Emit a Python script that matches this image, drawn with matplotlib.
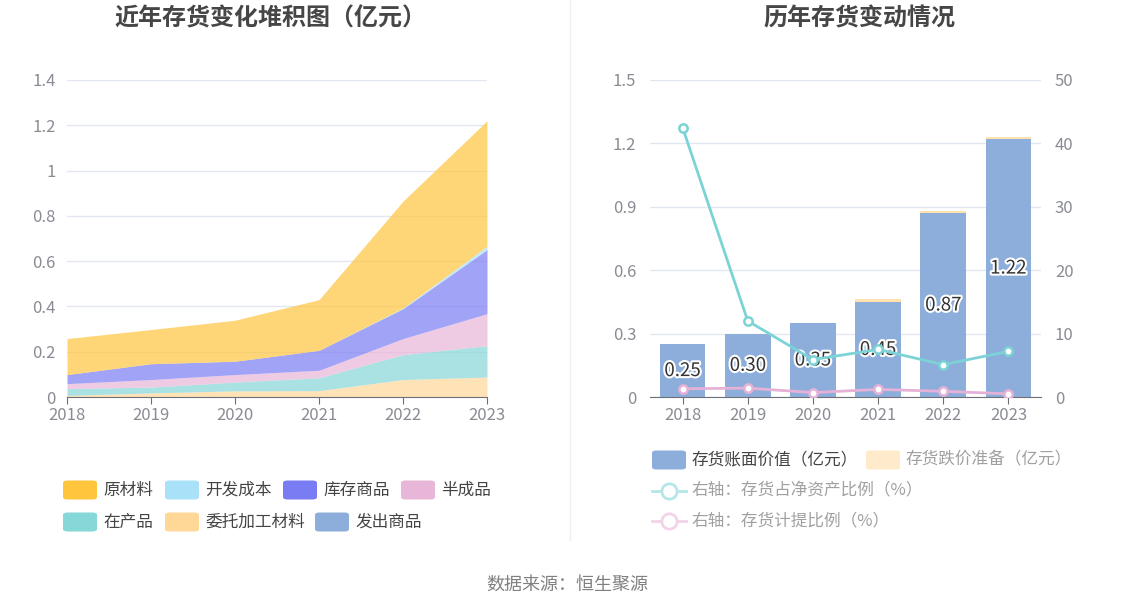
import matplotlib
matplotlib.use("Agg")
import matplotlib.pyplot as plt
import matplotlib.patheffects as pe
from matplotlib.patches import FancyBboxPatch
from matplotlib.lines import Line2D
import numpy as np

plt.rcParams['font.family'] = ['Noto Sans CJK SC', 'DejaVu Sans']

years = ['2018', '2019', '2020', '2021', '2022', '2023']

# Left chart: stacked inventory composition (亿元), bottom to top
fachu = [0, 0, 0, 0, 0, 0]                                   # 发出商品
weituo = [0.007, 0.018, 0.027, 0.028, 0.077, 0.088]          # 委托加工材料
zaichan = [0.030, 0.026, 0.039, 0.057, 0.110, 0.139]         # 在产品
banchengpin = [0.022, 0.033, 0.033, 0.033, 0.071, 0.141]     # 半成品
kucun = [0.040, 0.070, 0.059, 0.088, 0.132, 0.283]           # 库存商品
kaifa = [0, 0, 0, 0, 0.003, 0.015]                           # 开发成本
yuancailiao = [0.159, 0.151, 0.181, 0.224, 0.472, 0.554]     # 原材料

# Right chart
book_value = [0.25, 0.30, 0.35, 0.45, 0.87, 1.22]            # 存货账面价值
impairment = [0, 0, 0, 0.012, 0.011, 0.010]                  # 存货跌价准备
ratio_net_assets = [42.5, 12.0, 5.9, 7.5, 5.1, 7.2]          # 存货占净资产比例 (%)
provision_ratio = [1.3, 1.4, 0.7, 1.2, 0.9, 0.5]             # 存货计提比例 (%)

left_yticks = [0, 0.2, 0.4, 0.6, 0.8, 1.0, 1.2, 1.4]
left_yticklabels = ['0', '0.2', '0.4', '0.6', '0.8', '1', '1.2', '1.4']
right_yticks = [0, 0.3, 0.6, 0.9, 1.2, 1.5]
right_yticklabels = ['0', '0.3', '0.6', '0.9', '1.2', '1.5']
right2_yticks = [0, 10, 20, 30, 40, 50]

c_yuan = '#FFC53D'
c_kaifa = '#A9E1F9'
c_kucun = '#7A7CF3'
c_ban = '#E8B6D8'
c_zai = '#86D7D8'
c_wei = '#FFD898'
c_fachu = '#8DADDB'
c_bar = '#8DADDB'
c_imp = '#FFE2AE'
c_line1 = '#7CD3D6'
c_line2 = '#E6B1D6'

grid_c = '#E3E7F2'
tick_c = '#8A8C94'
axis_c = '#6E7079'

TICK_FS = 12
LEG_FS = 12

W, H = 1134, 612
fig = plt.figure(figsize=(W / 100, H / 100), dpi=100)

def fx(px):
    return px / W

def fy(py):
    return 1 - py / H

# ---------- Left chart ----------
axL = fig.add_axes([fx(67), fy(397), fx(487) - fx(67), fy(80) - fy(397)])
x = np.arange(len(years))
layers = [(fachu, c_fachu), (weituo, c_wei), (zaichan, c_zai), (banchengpin, c_ban),
          (kucun, c_kucun), (kaifa, c_kaifa), (yuancailiao, c_yuan)]
base = np.zeros(len(years))
for vals, col in layers:
    top = base + np.array(vals)
    axL.fill_between(x, base, top, color=col, alpha=0.7, linewidth=0)
    base = top
axL.set_xlim(0, 5)
axL.set_ylim(0, 1.4)
axL.set_yticks(left_yticks)
axL.set_yticklabels(left_yticklabels)
axL.set_xticks(x)
axL.set_xticklabels(years)
axL.grid(axis='y', color=grid_c, linewidth=1)
axL.set_axisbelow(True)
for s in ['top', 'right', 'left']:
    axL.spines[s].set_visible(False)
axL.spines['bottom'].set_color(axis_c)
axL.tick_params(axis='y', length=0, labelsize=TICK_FS, colors=tick_c, pad=8)
axL.tick_params(axis='x', length=5, color=axis_c, labelsize=TICK_FS, labelcolor=tick_c, pad=2)

# ---------- Right chart ----------
axR = fig.add_axes([fx(650), fy(397), fx(1041) - fx(650), fy(80) - fy(397)])
xr = np.arange(len(years))
axR.bar(xr, book_value, width=0.7, color=c_bar, zorder=2)
axR.bar(xr, impairment, width=0.7, bottom=book_value, color=c_imp, zorder=2)
axR.set_xlim(-0.5, 5.5)
axR.set_ylim(0, 1.5)
axR.set_yticks(right_yticks)
axR.set_yticklabels(right_yticklabels)
axR.set_xticks(xr)
axR.set_xticklabels(years)
axR.grid(axis='y', color=grid_c, linewidth=1, zorder=0)
axR.set_axisbelow(True)
for s in ['top', 'right', 'left']:
    axR.spines[s].set_visible(False)
axR.spines['bottom'].set_color(axis_c)
axR.tick_params(axis='y', length=0, labelsize=TICK_FS, colors=tick_c, pad=10)
axR.tick_params(axis='x', length=5, color=axis_c, labelsize=TICK_FS, labelcolor=tick_c, pad=2)

# bar labels (below the lines, as in the reference)
for xi, v in zip(xr, book_value):
    axR.text(xi, v / 2, f'{v:.2f}', ha='center', va='center', fontsize=13.5,
             color='#333333', zorder=5,
             path_effects=[pe.withStroke(linewidth=3, foreground='white')])

axR2 = axR.twinx()
axR2.set_ylim(0, 50)
axR2.set_yticks(right2_yticks)
for s in ['top', 'right', 'left', 'bottom']:
    axR2.spines[s].set_visible(False)
axR2.tick_params(axis='y', length=0, labelsize=TICK_FS, colors=tick_c, pad=10)
axR2.plot(xr, ratio_net_assets, color=c_line1, linewidth=2, marker='o', markersize=6,
          markerfacecolor='white', markeredgecolor=c_line1, markeredgewidth=1.8, zorder=3)
axR2.plot(xr, provision_ratio, color=c_line2, linewidth=2, marker='o', markersize=6,
          markerfacecolor='white', markeredgecolor=c_line2, markeredgewidth=1.8, zorder=3)

# ---------- Titles and decorations ----------
fig.text(fx(270), fy(18), '近年存货变化堆积图（亿元）', ha='center', va='center',
         fontsize=17.3, fontweight='bold', color='#464646')
fig.text(fx(859), fy(18), '历年存货变动情况', ha='center', va='center',
         fontsize=17.3, fontweight='bold', color='#464646')
fig.add_artist(Line2D([fx(570), fx(570)], [fy(540), fy(0)], color='#EEEEEE', linewidth=1))
fig.text(fx(567), fy(585), '数据来源：恒生聚源', ha='center', va='center',
         fontsize=13, color='#808080')

# ---------- Left legend ----------
def patch(px, py, col, w=34, h=19):
    p = FancyBboxPatch((fx(px), fy(py + h / 2)), fx(w), h / H,
                       boxstyle='round,pad=0,rounding_size=0.004',
                       transform=fig.transFigure, facecolor=col, edgecolor='none')
    fig.add_artist(p)

left_legend = [
    ('原材料', c_yuan, 63, 490), ('开发成本', c_kaifa, 165, 490),
    ('库存商品', c_kucun, 283, 490), ('半成品', c_ban, 401, 490),
    ('在产品', c_zai, 63, 522), ('委托加工材料', c_wei, 165, 522),
    ('发出商品', c_fachu, 315, 522),
]
for name, col, px, py in left_legend:
    patch(px, py, col)
    fig.text(fx(px + 40), fy(py), name, ha='left', va='center', fontsize=LEG_FS, color='#444444')

# ---------- Right legend ----------
patch(652, 460, c_bar)
fig.text(fx(692), fy(460), '存货账面价值（亿元）', ha='left', va='center', fontsize=LEG_FS, color='#444444')
patch(866, 460, '#FFEACB')
fig.text(fx(906), fy(460), '存货跌价准备（亿元）', ha='left', va='center', fontsize=LEG_FS, color='#A0A0A0')

for py, col, name in [(491, '#B5E6E8', '右轴：存货占净资产比例（%）'),
                      (521, '#F2D3E8', '右轴：存货计提比例（%）')]:
    fig.add_artist(Line2D([fx(652), fx(686)], [fy(py), fy(py)], color=col, linewidth=2))
    fig.add_artist(Line2D([fx(669)], [fy(py)], marker='o', markersize=11,
                          markerfacecolor='white', markeredgecolor=col, markeredgewidth=2))
    fig.text(fx(692), fy(py), name, ha='left', va='center', fontsize=LEG_FS, color='#A0A0A0')

fig.savefig('out.png', dpi=100)
